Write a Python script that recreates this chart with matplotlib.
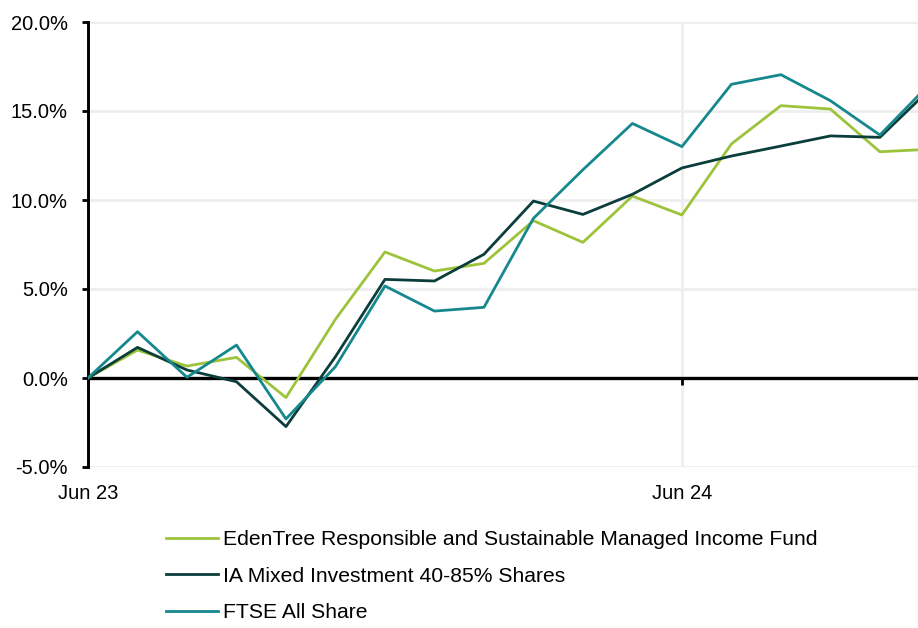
import matplotlib
matplotlib.use("Agg")
import matplotlib.pyplot as plt
from matplotlib.ticker import FuncFormatter

plt.rcParams['font.family'] = ['Liberation Sans', 'DejaVu Sans']

# monthly cumulative performance (%) from Jun 23
months = list(range(18))
edentree = [0.0, 1.57, 0.67, 1.16, -1.10, 3.30, 7.08, 6.01, 6.44, 8.84,
            7.62, 10.22, 9.16, 13.15, 15.30, 15.11, 12.71, 12.85]
ia_mixed = [0.0, 1.72, 0.45, -0.21, -2.73, 1.20, 5.54, 5.45, 6.95, 9.94,
            9.19, 10.32, 11.80, 12.47, 13.03, 13.60, 13.52, 16.20]
ftse = [0.0, 2.60, 0.04, 1.85, -2.30, 0.64, 5.17, 3.76, 3.97, 8.97,
        11.70, 14.30, 13.00, 16.50, 17.04, 15.58, 13.65, 16.50]

series_names = ["EdenTree Responsible and Sustainable Managed Income Fund",
                "IA Mixed Investment 40-85% Shares",
                "FTSE All Share"]
colors = ["#9dc33b", "#0b3d3b", "#15888d"]

tick_pos = [0, 12]
tick_labels = ["Jun 23", "Jun 24"]

fig = plt.figure(figsize=(9.18, 6.28), dpi=100)
ax = fig.add_axes([88 / 918, 1 - 467 / 628, 1 - 88 / 918, (467 - 22) / 628])

for vals, name, c in zip([edentree, ia_mixed, ftse], series_names, colors):
    ax.plot(months, vals, color=c, lw=2.0, label=name, zorder=3)

ax.set_xlim(0, 16.77)
ax.set_ylim(-5, 20)
ax.set_yticks([-5, 0, 5, 10, 15, 20])
ax.yaxis.set_major_formatter(FuncFormatter(lambda v, p: f"{v:.1f}%"))

# grid
for y in [5, 10, 15, 20, -5]:
    ax.axhline(y, color="#eeeeee", lw=2, zorder=1)
ax.axvline(12, color="#eeeeee", lw=2, zorder=1)

for s in ["top", "right"]:
    ax.spines[s].set_visible(False)
ax.spines["left"].set_linewidth(2.1)
ax.spines["bottom"].set_position(("data", 0))
ax.spines["bottom"].set_linewidth(2.4)
ax.spines["bottom"].set_zorder(2)

ax.set_xticks(tick_pos)
ax.tick_params(axis="x", length=5, width=2.0, direction="out", labelbottom=False)
ax.tick_params(axis="y", length=4.5, width=2.0, labelsize=14.5, pad=10)

sec = ax.secondary_xaxis(0)
sec.set_xticks(tick_pos)
sec.set_xticklabels(tick_labels)
sec.tick_params(length=0, labelsize=14.5, pad=12)
sec.spines["bottom"].set_visible(False)

fig.legend(loc="upper left", bbox_to_anchor=(166 / 918, 1 - 530 / 628),
           frameon=False, fontsize=15.2, handlelength=2.45, handletextpad=0.24,
           labelspacing=0.84, borderaxespad=0, borderpad=0)

fig.savefig("out.png", dpi=100)
